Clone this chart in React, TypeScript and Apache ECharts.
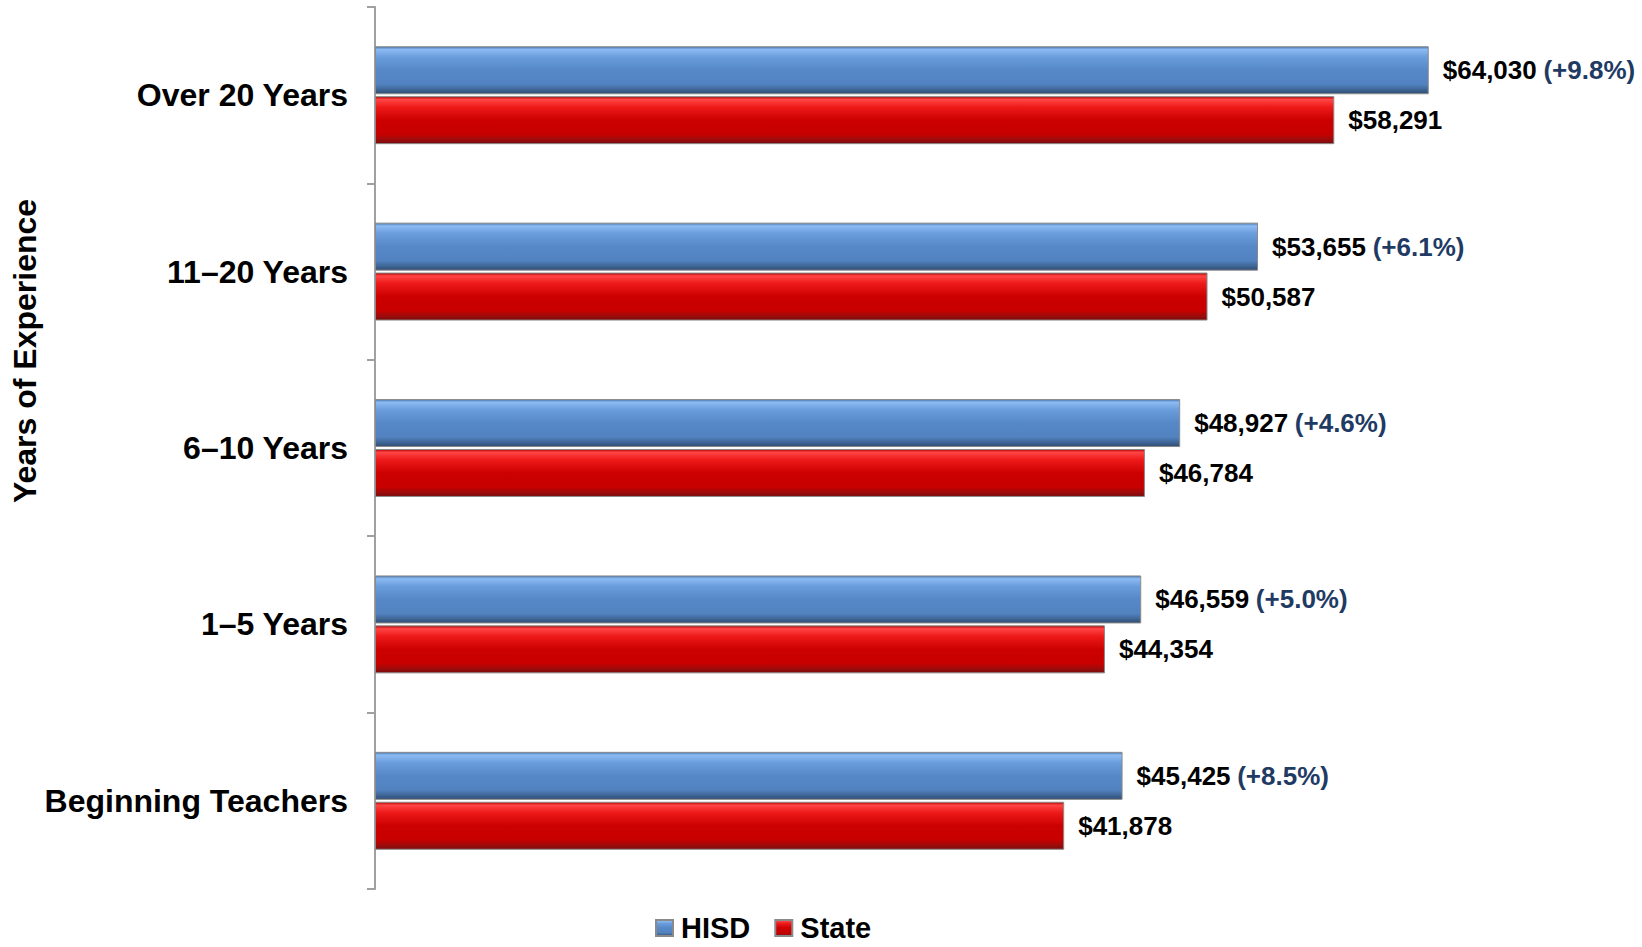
import React, { useEffect, useRef } from "react";
import * as echarts from "echarts";

const categories = ["Beginning Teachers", "1–5 Years", "6–10 Years", "11–20 Years", "Over 20 Years"];
const hisdValues = [45425, 46559, 48927, 53655, 64030];
const stateValues = [41878, 44354, 46784, 50587, 58291];
const pctLabels = ["(+8.5%)", "(+5.0%)", "(+4.6%)", "(+6.1%)", "(+9.8%)"];
const seriesNames = ["HISD", "State"];

const FONT = '"Liberation Sans", Arial, Helvetica, sans-serif';

const fmt = (v: number) => "$" + v.toLocaleString("en-US");

const blueGrad = new echarts.graphic.LinearGradient(0, 0, 0, 1, [
  { offset: 0, color: "#4a78b0" },
  { offset: 0.06, color: "#8dbbf3" },
  { offset: 0.22, color: "#6a9ddc" },
  { offset: 0.5, color: "#5688c8" },
  { offset: 0.8, color: "#5282c0" },
  { offset: 0.92, color: "#3e6493" },
  { offset: 1, color: "#2f4d73" },
]);
const redGrad = new echarts.graphic.LinearGradient(0, 0, 0, 1, [
  { offset: 0, color: "#b00000" },
  { offset: 0.06, color: "#ff4545" },
  { offset: 0.22, color: "#ee1a1a" },
  { offset: 0.5, color: "#cc0000" },
  { offset: 0.8, color: "#c80000" },
  { offset: 0.92, color: "#9a0c0c" },
  { offset: 1, color: "#7a0a0a" },
]);

export default function App() {
  const ref = useRef<HTMLDivElement>(null);
  useEffect(() => {
    if (!ref.current) return;
    const chart = echarts.init(ref.current, undefined, { renderer: "svg" });
    chart.setOption({
      animation: false,
      backgroundColor: "#ffffff",
      grid: { left: 375, right: 115, top: 7, bottom: 58, containLabel: false },
      legend: {
        data: seriesNames,
        left: 655,
        top: 913,
        padding: 0,
        itemWidth: 17,
        itemHeight: 16,
        itemGap: 24,
        textStyle: { fontFamily: FONT, fontSize: 29, lineHeight: 30, fontWeight: "bold", color: "#000", padding: [0, 0, 0, 3] },
        icon: "rect",
      },
      xAxis: {
        type: "value",
        min: 0,
        max: 70000,
        show: false,
        splitLine: { show: false },
      },
      yAxis: {
        type: "category",
        data: categories,
        axisLine: { show: true, lineStyle: { color: "#a0a0a0", width: 2 } },
        axisTick: { show: true, length: 8, lineStyle: { color: "#a0a0a0", width: 2 } },
        axisLabel: {
          fontFamily: FONT,
          fontSize: 32,
          fontWeight: "bold",
          color: "#000",
          margin: 27,
        },
      },
      graphic: [
        {
          type: "text",
          x: 25,
          y: 351,
          rotation: Math.PI / 2,
          style: {
            text: "Years of Experience",
            fontFamily: FONT,
            fontSize: 32,
            fontWeight: "bold",
            fill: "#000",
            align: "center",
            verticalAlign: "middle",
          },
        },
      ],
      series: [
        {
          name: "HISD",
          type: "bar",
          data: hisdValues,
          barWidth: 48,
          barGap: "4%",
          itemStyle: { color: blueGrad, borderColor: "#8a8a8a", borderWidth: 1 },
          label: {
            show: true,
            position: "right",
            distance: 14,
            formatter: (p: any) => `{v|${fmt(p.value)}}  {p|${pctLabels[p.dataIndex]}}`,
            rich: {
              v: { fontFamily: FONT, fontSize: 26, fontWeight: "bold", color: "#000" },
              p: { fontFamily: FONT, fontSize: 26, fontWeight: "bold", color: "#1f3b64" },
            },
          },
        },
        {
          name: "State",
          type: "bar",
          data: stateValues,
          barWidth: 48,
          barGap: "4%",
          itemStyle: { color: redGrad, borderColor: "#8a8a8a", borderWidth: 1 },
          label: {
            show: true,
            position: "right",
            distance: 14,
            fontFamily: FONT,
            fontSize: 26,
            fontWeight: "bold",
            color: "#000",
            formatter: (p: any) => fmt(p.value),
          },
        },
      ],
    });
    return () => chart.dispose();
  }, []);
  return (
    <div
      ref={ref}
      style={{ position: "absolute", left: 0, top: 0, width: 1642, height: 947 }}
    />
  );
}
